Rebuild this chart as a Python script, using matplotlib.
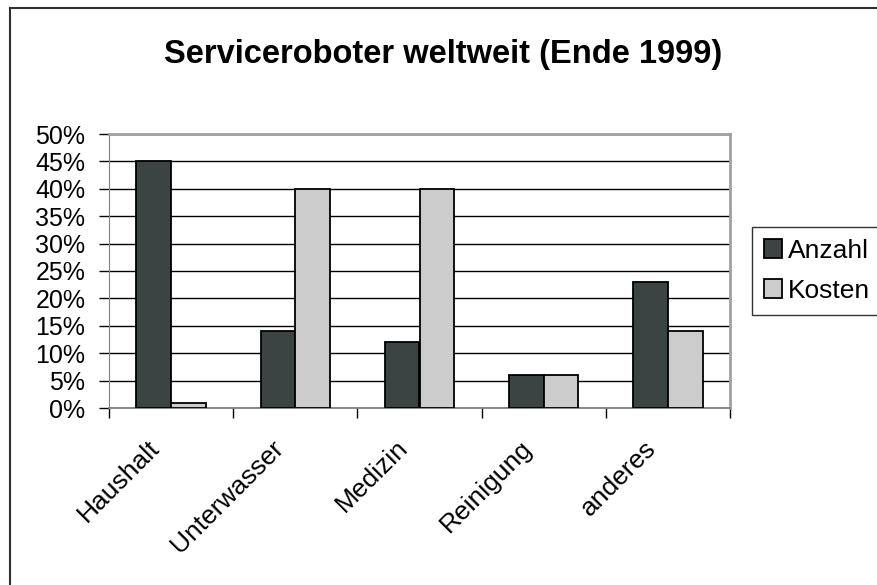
import matplotlib.pyplot as plt
from matplotlib.lines import Line2D
from matplotlib.transforms import ScaledTranslation
import numpy as np

plt.rcParams['font.family'] = ['Liberation Sans', 'DejaVu Sans']

kategorien = ["Haushalt", "Unterwasser", "Medizin", "Reinigung", "anderes"]
anzahl = [45, 14, 12, 6, 23]
kosten = [1, 40, 40, 6, 14]
y_ticks = [0, 5, 10, 15, 20, 25, 30, 35, 40, 45, 50]

W, H = 877, 585
fig = plt.figure(figsize=(W / 100, H / 100), dpi=100)
ax = fig.add_axes([109 / W, 1 - 408 / H, (730 - 109) / W, (408 - 134) / H])

x = np.arange(len(kategorien))
b = 0.28
ax.bar(x - b / 2, anzahl, b, color='#3c4443', edgecolor='black', linewidth=1.3,
       label='Anzahl', zorder=3)
ax.bar(x + b / 2, kosten, b, color='#cccccc', edgecolor='black', linewidth=1.3,
       label='Kosten', zorder=3)

ax.set_xlim(-0.5, len(kategorien) - 0.5)
ax.set_ylim(0, 50)
ax.set_yticks(y_ticks)
ax.set_yticklabels([f"{v}%" for v in y_ticks], fontsize=18)
ax.yaxis.grid(True, color='black', linewidth=1, zorder=0)
ax.tick_params(axis='y', length=7, width=1, pad=10)

ax.set_xticks(x)
ax.set_xticklabels(kategorien, rotation=45, ha='right', va='top',
                   rotation_mode='anchor', fontsize=19)
ax.tick_params(axis='x', which='major', length=0, pad=20)
verschiebung = ScaledTranslation(-24 / 100, 0, fig.dpi_scale_trans)
for lbl in ax.get_xticklabels():
    lbl.set_transform(lbl.get_transform() + verschiebung)
ax.set_xticks(np.arange(-0.5, len(kategorien)), minor=True)
ax.tick_params(axis='x', which='minor', length=7, width=1, color='black')

for s in ['top', 'right']:
    ax.spines[s].set_color('#a0a0a0')
    ax.spines[s].set_linewidth(2)
ax.spines['left'].set_color('#808080')
ax.spines['bottom'].set_color('#808080')
ax.spines['bottom'].set_linewidth(1.3)

fig.text(443 / W, 1 - 55 / H, "Serviceroboter weltweit (Ende 1999)",
         ha='center', va='center', fontsize=23.5, fontweight='bold')

leg = fig.legend(loc='upper left', bbox_to_anchor=(752 / W, 1 - 227 / H),
                 fontsize=19, frameon=True, fancybox=False, edgecolor='black',
                 handlelength=0.7, handleheight=0.7, handletextpad=0.2,
                 borderpad=0.45, labelspacing=0.6, borderaxespad=0)
leg.get_frame().set_linewidth(1)

# Rahmen des Diagramms
fig.add_artist(Line2D([9.5 / W, 9.5 / W], [0, 1 - 7.5 / H], color='#303030', linewidth=1.5))
fig.add_artist(Line2D([9.5 / W, 1], [1 - 7.5 / H, 1 - 7.5 / H], color='#303030', linewidth=1.5))

fig.savefig("out.png", dpi=100)
